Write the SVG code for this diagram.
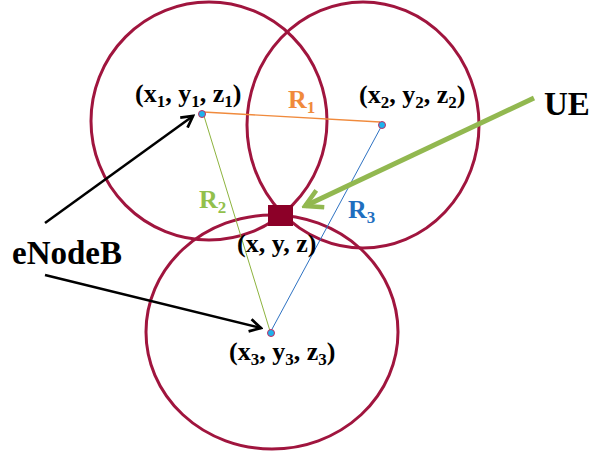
<svg xmlns="http://www.w3.org/2000/svg" width="591" height="457" viewBox="0 0 591 457">
<defs>
<style>
.ring{fill:none;stroke:#A0153E;stroke-width:3}
.lbl{font-family:"Liberation Serif","Times New Roman",serif;font-weight:bold;fill:#000}
.coord{font-size:26px}
.big{font-size:33px}
.sub{font-size:17px}
.dot{fill:#1DB2EC;stroke:#C42E62;stroke-width:1}
.ptr{fill:none;stroke:#000;stroke-width:2.5}
</style>
<marker id="blk" viewBox="0 0 12 12" refX="10" refY="6" markerWidth="6" markerHeight="6" markerUnits="strokeWidth" orient="auto">
<path d="M1,1 L10,6 L1,11" fill="none" stroke="#000" stroke-width="2.2"/>
</marker>
<marker id="grn" viewBox="0 0 12 12" refX="10" refY="6" markerWidth="4.5" markerHeight="4.5" markerUnits="strokeWidth" orient="auto">
<path d="M1,1 L10,6 L1,11" fill="none" stroke="#92B850" stroke-width="2.4"/>
</marker>
</defs>
<rect width="591" height="457" fill="#fff"/>
<g id="circles">
<ellipse class="ring" cx="209" cy="121" rx="118" ry="119"/>
<ellipse class="ring" cx="363" cy="125" rx="116" ry="123"/>
<ellipse class="ring" cx="272" cy="332" rx="126" ry="117"/>
</g>
<g id="connectors">
<line x1="203" y1="112" x2="380" y2="122" stroke="#F08A3C" stroke-width="1.3"/>
<line x1="204" y1="116" x2="270" y2="331" stroke="#8DB33E" stroke-width="1"/>
<line x1="381" y1="127" x2="271" y2="331" stroke="#2E72C2" stroke-width="1"/>
<line class="ptr" x1="45" y1="223" x2="193" y2="116" marker-end="url(#blk)"/>
<line class="ptr" x1="45" y1="275" x2="261" y2="328" marker-end="url(#blk)"/>
<line x1="534" y1="98" x2="305" y2="206" stroke="#92B850" stroke-width="5" marker-end="url(#grn)"/>
</g>
<g id="node1">
<circle class="dot" cx="202" cy="114" r="3.5"/>
<text class="lbl coord" x="135" y="102">(x<tspan class="sub" dy="5">1</tspan><tspan dy="-5">, y</tspan><tspan class="sub" dy="5">1</tspan><tspan dy="-5">, z</tspan><tspan class="sub" dy="5">1</tspan><tspan dy="-5">)</tspan></text>
</g>
<g id="node2">
<circle class="dot" cx="382" cy="125" r="3.5"/>
<text class="lbl coord" x="359" y="103">(x<tspan class="sub" dy="5">2</tspan><tspan dy="-5">, y</tspan><tspan class="sub" dy="5">2</tspan><tspan dy="-5">, z</tspan><tspan class="sub" dy="5">2</tspan><tspan dy="-5">)</tspan></text>
</g>
<g id="node3">
<circle class="dot" cx="271" cy="333" r="3.5"/>
<text class="lbl coord" x="229" y="360">(x<tspan class="sub" dy="5">3</tspan><tspan dy="-5">, y</tspan><tspan class="sub" dy="5">3</tspan><tspan dy="-5">, z</tspan><tspan class="sub" dy="5">3</tspan><tspan dy="-5">)</tspan></text>
</g>
<g id="ue-node">
<rect x="268" y="205" width="25" height="21" fill="#8C0028"/>
<text class="lbl coord" x="237" y="252">(x, y, z)</text>
</g>
<g id="labels">
<text class="lbl" font-size="26" style="fill:#F08A3C" x="288" y="108">R<tspan class="sub" dy="5">1</tspan></text>
<text class="lbl" font-size="26" style="fill:#92C04C" x="199" y="208">R<tspan class="sub" dy="5">2</tspan></text>
<text class="lbl" font-size="26" style="fill:#1F6FBF" x="348" y="218">R<tspan class="sub" dy="5">3</tspan></text>
</g>
<g id="ue-label"><text class="lbl big" x="544" y="115">UE</text></g>
<g id="enodeb-label"><text class="lbl big" x="12" y="264">eNodeB</text></g>
</svg>
